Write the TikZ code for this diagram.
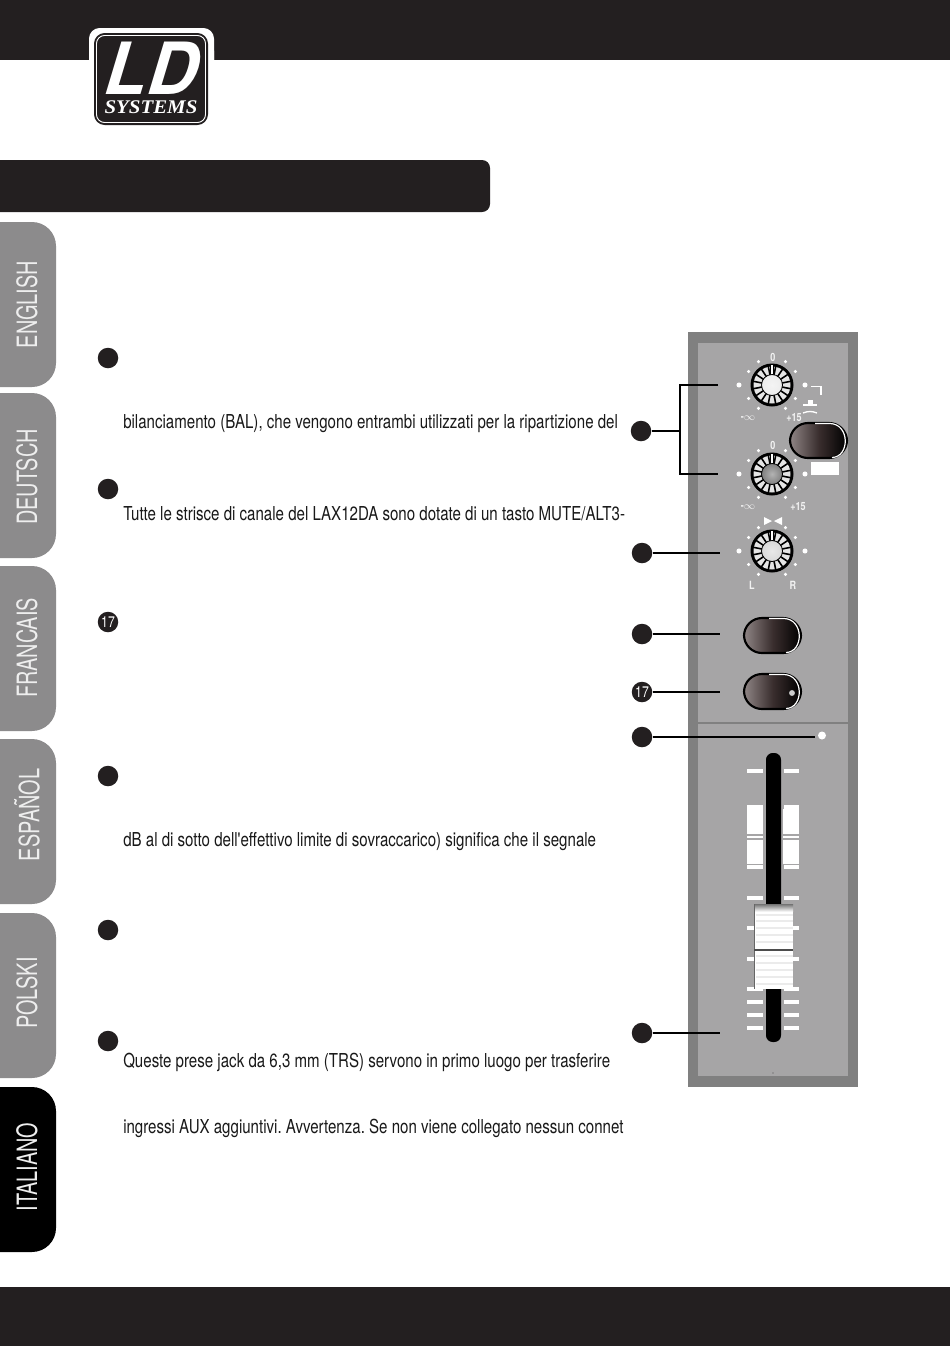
\documentclass[tikz,border=0pt]{standalone}
\usepackage{fontspec}
\newfontfamily\bodyfont[FakeStretch=0.785]{TeX Gyre Heros}
\newfontfamily\tabfont[FakeStretch=0.71]{TeX Gyre Heros}
\newfontfamily\labelfont[FakeStretch=0.8]{TeX Gyre Heros}
\newfontfamily\logobig[BoldFeatures={FakeSlant=0.3},FakeStretch=0.97]{TeX Gyre Heros}
\newfontfamily\logofont[FakeStretch=1.08]{Liberation Serif}
\definecolor{pagedark}{HTML}{231F20}
\definecolor{tabgray}{HTML}{8C8B8C}
\definecolor{panelout}{HTML}{808080}
\definecolor{panelin}{HTML}{A6A5A6}
\definecolor{switchleft}{HTML}{8F8585}
\definecolor{switchmid}{HTML}{3A2E2E}
\tikzset{
  callout/.style={circle, fill=pagedark, draw=none, minimum size=20.5*0.75pt, inner sep=0pt, text=white, font=\labelfont\fontsize{11.5}{11}\selectfont},
  leader/.style={line width=1.3pt, black},
  bodyline/.style={anchor=west, inner sep=0pt, text=black!90, font=\bodyfont\frenchspacing\fontsize{14.4}{16}\selectfont},
  tablabel/.style={rotate=90, text=white!85!tabgray, inner sep=0pt, font=\tabfont\fontsize{21}{21}\selectfont},
  panellabel/.style={text=white!90!gray, inner sep=0pt, font=\labelfont\bfseries\fontsize{8.5}{9}\selectfont},
  tick/.style={white, line width=2.3pt},
  switchbody/.style={rounded corners=13.5pt, left color=switchleft, right color=black, middle color=switchmid, draw=black, line width=1.6pt},
}
% Drehregler: Mitte, Kappenfarbe
\newcommand{\knobdial}[3]{%
  \begin{scope}[shift={(#1,#2)}]
    \foreach \a in {30,60,120,150,210,240,300,330} \fill[white] (\a:27) circle (1.3pt);
    \foreach \a in {0,180} \fill[white] (\a:33) circle (1.9pt);
    \fill[black] (0,0) circle (21.5*0.75pt);
    \fill[white!80!gray] (0,0) circle (18.5*0.75pt);
    \foreach \a in {11.25,33.75,...,348.75} \draw[black, line width=1.2pt] (\a:8) -- (\a:20);
    \draw[black, line width=2.6pt] (0,-9) -- (0,-20);
    \draw[white, line width=1.2pt] (0,-9) -- (0,-20);
    \shade[inner color=#3!60!white, outer color=#3] (0,0) circle (10.5*0.75pt);
    \draw[black, line width=0.6pt] (0,0) circle (10.5*0.75pt);
  \end{scope}}
% Taster: linker Rand, obere Kante
\newcommand{\switchcap}[2]{%
  \draw[switchbody] (#1,#2) rectangle ++(57,35);
  \draw[white, line width=0.9pt] (#1+25,#2+0.5) -- (#1+40,#2+0.5) .. controls (#1+60,#2+1) and (#1+60,#2+34) .. (#1+42,#2+34.5);}
% Reiter links
\newcommand{\pagetab}[5]{%
  \fill[#4] (0,#1) [rounded corners=18pt] -- (56,#1) -- (56,#2) [sharp corners] -- (0,#2) -- cycle;
  \node[tablabel] (#3) at (27,#5) {#3};}
\begin{document}
\begin{tikzpicture}[x=0.75pt, y=-0.75pt]
  \useasboundingbox (0,0) rectangle (950,1346);
  \fill[white] (0,0) rectangle (950,1346);

  % Balken
  \fill[pagedark] (0,0) rectangle (950,60);
  \fill[pagedark] (0,1287) rectangle (950,1346);
  \fill[pagedark] (0,160) [rounded corners=6pt] -- (490,160) -- (490,212) [sharp corners] -- (0,212) -- cycle;

  % Logo
  \fill[white] (89,60) [rounded corners=8pt] -- (89,28) -- (214,28) [sharp corners] -- (214,60) -- cycle;
  \fill[white, rounded corners=8pt] (89,40) rectangle (214,128);
  \fill[pagedark, rounded corners=8pt] (94,33) rectangle (208,125);
  \draw[white, line width=0.7pt, rounded corners=6pt] (96.5,35.5) rectangle (205.5,122.5);
  \node[inner sep=0pt, text=white, text height=38pt, text depth=0pt, font=\logobig\bfseries\fontsize{54}{54}\selectfont] (logoLD) at (147,69) {LD};
  \node[inner sep=0pt, text=white, text height=9pt, text depth=0pt, font=\logofont\bfseries\itshape\fontsize{14.5}{15}\selectfont] (logoSys) at (151,107) {SYSTEMS};

  % Reiter
  \pagetab{222}{387}{ENGLISH}{tabgray}{304.5}
  \pagetab{393}{558}{DEUTSCH}{tabgray}{477}
  \pagetab{566}{731}{FRANCAIS}{tabgray}{648}
  \pagetab{739}{904}{ESPAÑOL}{tabgray}{815}
  \pagetab{913}{1078}{POLSKI}{tabgray}{993}
  \pagetab{1087}{1252}{ITALIANO}{black}{1167}

  % Text
  \node[bodyline] (line1) at (123,423.5) {bilanciamento (BAL), che vengono entrambi utilizzati per la ripartizione del};
  \node[bodyline] (line2) at (123,513.5) {Tutte le strisce di canale del LAX12DA sono dotate di un tasto MUTE/ALT3-};
  \node[bodyline] (line3) at (123,841.5) {dB al di sotto dell'effettivo limite di sovraccarico) significa che il segnale};
  \node[bodyline] (line4) at (123,1062.5) {Queste prese jack da 6,3 mm (TRS) servono in primo luogo per trasferire};
  \node[bodyline] (line5) at (123,1128.5) {ingressi AUX aggiuntivi. Avvertenza. Se non viene collegato nessun connet};

  % Punkte links
  \node[callout] (left1) at (108,358) {};
  \node[callout] (left2) at (108,489) {};
  \node[callout] (left3) at (108,622) {17};
  \node[callout] (left4) at (108,776) {};
  \node[callout] (left5) at (108,930) {};
  \node[callout] (left6) at (108,1041) {};

  % Pult
  \fill[panelout] (688,332) rectangle (858,1087);
  \fill[panelin] (698,343) rectangle (848,1076);
  \draw[panelout, line width=1.5pt] (698,723) -- (848,723);
  \fill[black!70] (773,1073) circle (0.5pt);

  % Regler
  \knobdial{772}{385}{white!85!gray}
  \knobdial{772}{474}{gray}
  \knobdial{772}{551}{white!70!gray}
  \node[panellabel] (zero1) at (773,357) {0};
  \node[panellabel] (zero2) at (773,445) {0};
  \node[panellabel] (minus1) at (748,418) {-$\infty$};
  \node[panellabel] (plus1) at (794,418) {+15};
  \node[panellabel] (minus2) at (748,507) {-$\infty$};
  \node[panellabel] (plus2) at (798,507) {+15};
  \node[panellabel] (chL) at (752,585) {L};
  \node[panellabel] (chR) at (793,585) {R};
  \fill[white] (764,517) -- (772,521) -- (764,525) -- cycle;
  \fill[white] (782,517) -- (774,521) -- (782,525) -- cycle;
  \draw[white, line width=1pt] (811,386.5) -- (821,386.5) -- (821,395);
  \fill[white] (808,400) rectangle (813,405);
  \draw[white, line width=1pt] (803,405) -- (817,405);
  \draw[white, line width=1pt] (803,413) .. controls (808,411) and (812,411) .. (817,413);

  % Taster
  \switchcap{790}{423}
  \fill[white] (811,462) rectangle (839,475);
  \switchcap{744}{618}
  \switchcap{744}{674}
  \fill[white!60!gray] (792,693) circle (2.2pt);
  \fill[white] (822,735.5) circle (3pt);

  % Fader
  \foreach \y in {771,807,867,898,928,959,989,1002,1015,1028} {
    \draw[tick] (747,\y) -- (763,\y);
    \draw[tick] (784,\y) -- (799,\y);
  }
  \foreach \x in {747,783} {
    \fill[white] (\x,809) rectangle ++(16,25);
    \fill[white] (\x,836) rectangle ++(16,2);
    \fill[white] (\x,840) rectangle ++(16,24);
  }
  \fill[black, rounded corners=5pt] (766,753) rectangle (781,1042);
  \fill[white] (754,904) rectangle (793,989);
  \shade[top color=black!55, bottom color=white!90!gray] (754,904) rectangle (793,911);
  \foreach \y in {915,921,928,935,942,956,963,970,977,984}
    \draw[black!8, line width=1pt] (756,\y) -- (793,\y);
  \draw[black!60, line width=0.5pt] (754,904) -- (754,989);
  \draw[black!70, line width=1.3pt] (754,950) -- (793,950);

  % Punkte rechts und Linien
  \node[callout] (right1) at (641,431) {};
  \node[callout] (right2) at (642,553) {};
  \node[callout] (right3) at (642,634) {};
  \node[callout] (right4) at (642,692) {17};
  \node[callout] (right5) at (642,737) {};
  \node[callout] (right6) at (642,1033) {};
  \coordinate (knobA) at (718,385);
  \coordinate (knobB) at (718,474);
  \coordinate (brace) at (680,431);
  \coordinate (knobC) at (720,553);
  \coordinate (muteEnd) at (720,634);
  \coordinate (altEnd) at (720,692);
  \coordinate (ledEnd) at (815,737);
  \coordinate (faderEnd) at (720,1033);
  \draw[leader] (knobA) -| (brace |- knobB) -- (knobB);
  \draw[leader] (right1) -- (brace);
  \draw[leader] (right2) -- (knobC);
  \draw[leader] (right3) -- (muteEnd);
  \draw[leader] (right4) -- (altEnd);
  \draw[leader] (right5) -- (ledEnd);
  \draw[leader] (right6) -- (faderEnd);
\end{tikzpicture}
\end{document}
